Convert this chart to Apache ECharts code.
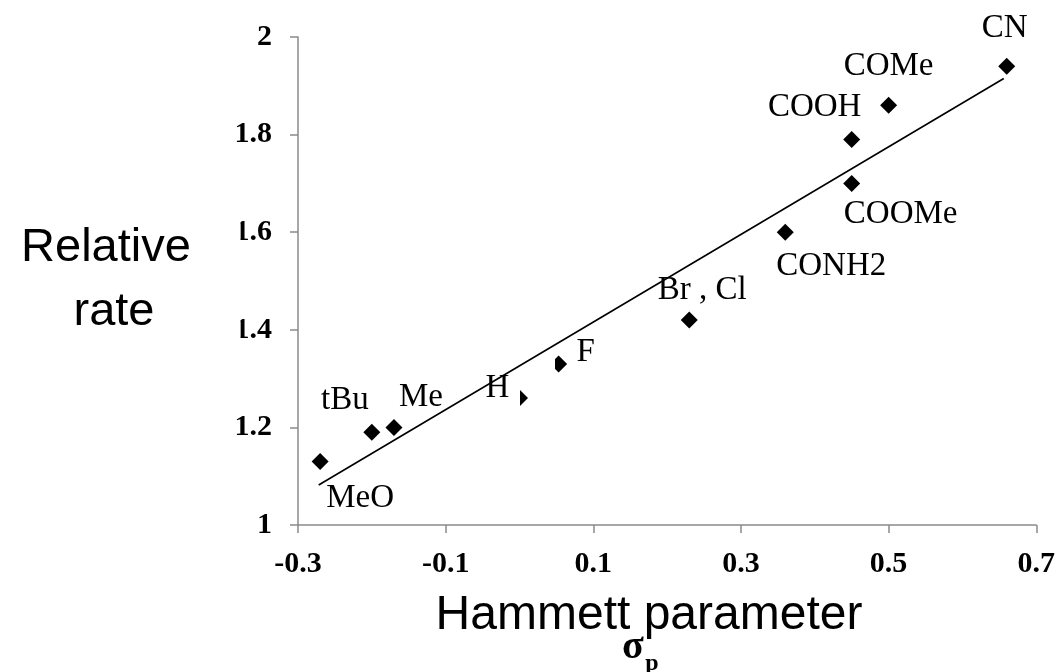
<!DOCTYPE html>
<html>
<head>
<meta charset="utf-8">
<script src="https://cdn.jsdelivr.net/npm/echarts@6/dist/echarts.min.js"></script>
<style>
  html, body { margin: 0; padding: 0; background: #fff; }
  #chart { width: 1058px; height: 672px; }
</style>
</head>
<body>
<div id="chart"></div>
<script>
// Substituents with their para Hammett constants and measured relative rates
const substituents = ['MeO', 'tBu', 'Me', 'H', 'F', 'Br , Cl', 'CONH2', 'COOMe', 'COOH', 'COMe', 'CN'];
const sigmaP       = [-0.27, -0.20, -0.17, 0.00, 0.053, 0.23, 0.36, 0.45, 0.45, 0.50, 0.66];
const relRate      = [1.13, 1.19, 1.20, 1.26, 1.33, 1.42, 1.60, 1.70, 1.79, 1.86, 1.94];

// Linear fit drawn across the data range
const fitSigma = [-0.272, 0.656];
const fitRate  = [1.082, 1.915];

// Axis ticks
const xTicks = [-0.3, -0.1, 0.1, 0.3, 0.5, 0.7];

// Where each substituent name sits relative to its point (px)
const labelOffset = {
  'MeO': [40, 37], 'tBu': [-27, -32], 'Me': [27, -30], 'H': [-22, -10],
  'F': [27, -12], 'Br , Cl': [13, -30], 'CONH2': [46, 34], 'COOMe': [49, 31],
  'COOH': [-37, -32], 'COMe': [0, -39], 'CN': [-2, -38]
};

const serif = '"Times New Roman", "Liberation Serif", serif';
const sans = 'Helvetica, Arial, "Liberation Sans", sans-serif';
const axisGray = '#8a8a8a';

const points = substituents.map((name, i) => ({
  name: name,
  value: [sigmaP[i], relRate[i]],
  label: { offset: labelOffset[name] }
}));

const chart = echarts.init(document.getElementById('chart'));
chart.setOption({
  animation: false,
  backgroundColor: '#fff',
  grid: { left: 298, right: 19, top: 37, bottom: 147, containLabel: false },
  xAxis: {
    type: 'value', min: -0.3, max: 0.7,
    axisLine: { show: true, onZero: false, lineStyle: { color: axisGray, width: 1.5 } },
    axisTick: { show: true, length: 8, inside: false, customValues: xTicks, lineStyle: { color: axisGray, width: 1.5 } },
    axisLabel: {
      customValues: xTicks, margin: 24,
      fontFamily: serif, fontWeight: 'bold', fontSize: 30, color: '#000',
      formatter: v => v.toFixed(1)
    },
    splitLine: { show: false }
  },
  yAxis: {
    type: 'value', min: 1, max: 2, interval: 0.2,
    axisLine: { show: true, onZero: false, lineStyle: { color: axisGray, width: 1.5 } },
    axisTick: { show: true, length: 8, inside: false, lineStyle: { color: axisGray, width: 1.5 } },
    axisLabel: {
      margin: 26, fontFamily: serif, fontWeight: 'bold', fontSize: 30, color: '#000',
      formatter: v => String(Math.round(v * 10) / 10)
    },
    splitLine: { show: false }
  },
  series: [
    {
      type: 'scatter',
      symbol: 'diamond',
      symbolSize: [17, 17],
      itemStyle: { color: '#000', opacity: 1 },
      data: points,
      label: {
        show: true,
        position: 'inside',
        formatter: p => p.name,
        fontFamily: serif, fontSize: 33, color: '#000',
        textBorderWidth: 0
      },
      emphasis: { disabled: true },
      z: 2
    },
    {
      type: 'line',
      data: fitSigma.map((s, i) => [s, fitRate[i]]),
      symbol: 'none',
      lineStyle: { color: '#000', width: 1.6 },
      z: 4
    }
  ],
  graphic: [
    // white text boxes of the annotations, which overlap a few neighbours
    { type: 'rect', z: 50, shape: { x: 0, y: 214, width: 240.5, height: 132 }, style: { fill: '#fff' } },
    { type: 'rect', z: 3, shape: { x: 511, y: 388, width: 9, height: 22 }, style: { fill: '#fff' } },
    { type: 'rect', z: 3, shape: { x: 546, y: 352, width: 9, height: 22 }, style: { fill: '#fff' } },
    {
      type: 'text', z: 100, x: 106, y: 248,
      style: { text: 'Relative', font: '47px ' + sans, fill: '#000', textAlign: 'center', textVerticalAlign: 'middle' }
    },
    {
      type: 'text', z: 100, x: 114, y: 312,
      style: { text: 'rate', font: '47px ' + sans, fill: '#000', textAlign: 'center', textVerticalAlign: 'middle' }
    },
    {
      type: 'text', z: 100, x: 649, y: 616,
      style: { text: 'Hammett parameter', font: '48px ' + sans, fill: '#000', textAlign: 'center', textVerticalAlign: 'middle' }
    },
    {
      type: 'text', z: 100, x: 633, y: 648,
      style: { text: 'σ', font: 'bold 40px ' + serif, fill: '#000', textAlign: 'center', textVerticalAlign: 'middle' }
    },
    {
      type: 'text', z: 100, x: 652, y: 664,
      style: { text: 'p', font: 'bold 24px ' + serif, fill: '#000', textAlign: 'center', textVerticalAlign: 'middle' }
    }
  ]
});
</script>
</body>
</html>
